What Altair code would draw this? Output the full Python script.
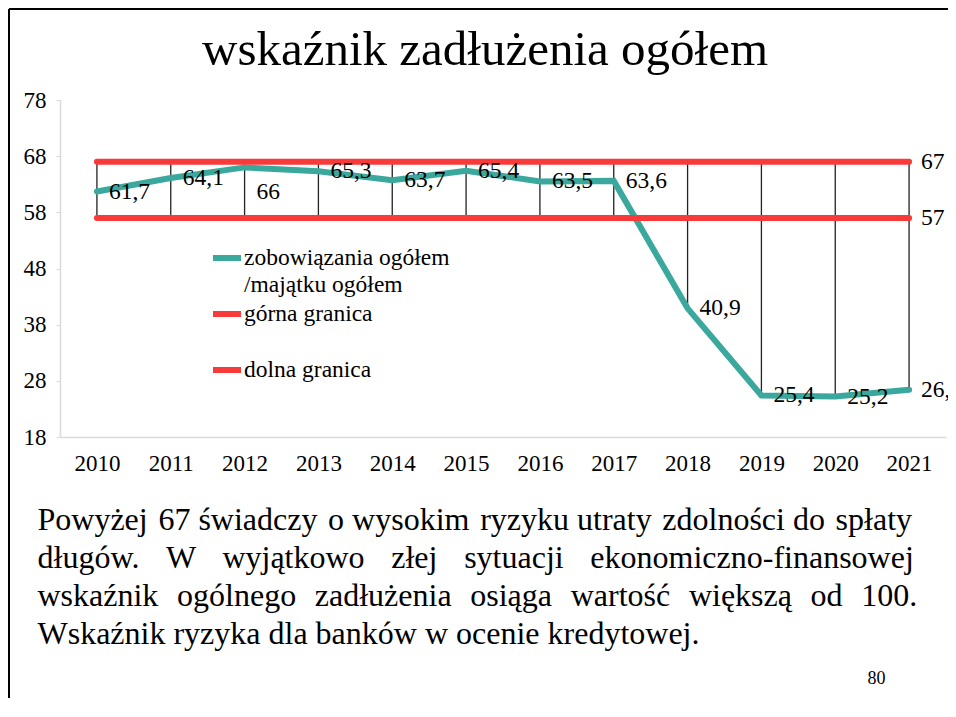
import altair as alt
import pandas as pd

# ---- data ----
years = [2010, 2011, 2012, 2013, 2014, 2015, 2016, 2017, 2018, 2019, 2020, 2021]
debt_ratio = [61.7, 64.1, 66, 65.3, 63.7, 65.4, 63.5, 63.6, 40.9, 25.4, 25.2, 26.4]
upper_limit = [67, 67, 67, 67, 67, 67, 67, 67, 67, 67, 67, 67]
lower_limit = [57, 57, 57, 57, 57, 57, 57, 57, 57, 57, 57, 57]
series_names = ["zobowiązania ogółem /majątku ogółem", "górna granica", "dolna granica"]
y_ticks = [18, 28, 38, 48, 58, 68, 78]
title_text = "wskaźnik zadłużenia ogółem"
note_lines = [
    "Powyżej 67 świadczy o wysokim ryzyku utraty zdolności do spłaty",
    "długów. W wyjątkowo złej sytuacji ekonomiczno-finansowej",
    "wskaźnik ogólnego zadłużenia osiąga wartość większą od 100.",
    "Wskaźnik ryzyka dla banków w ocenie kredytowej.",
]
page_number = "80"

# justified paragraph: widen word gaps with extra (non-collapsing) Unicode spaces
gap_fill = ["\u200a", "\u2002\u200a", "\u2004", ""]
justified = []
for i, (line, fill) in enumerate(zip(note_lines, gap_fill)):
    words = line.split(" ")
    if i == 0:
        out = words[0]
        for k, w in enumerate(words[1:]):
            out += " " + ("\u200a" if k % 2 == 0 else "") + w
        justified.append(out)
    else:
        justified.append((" " + fill).join(words))

TEAL = "#3AA89C"
RED = "#F83A3A"
FONT = "Liberation Serif, Times New Roman, serif"

wide = pd.DataFrame({"year": years, "ratio": debt_ratio,
                     "upper": upper_limit, "lower": lower_limit})
long_rows = []
for name, vals in zip(series_names, [debt_ratio, upper_limit, lower_limit]):
    for yr, v in zip(years, vals):
        long_rows.append({"year": yr, "series": name, "value": v})
long = pd.DataFrame(long_rows)

x_scale = alt.Scale(type="point", padding=0.5)
y_scale = alt.Scale(domain=[18, 78], nice=False, zero=False)

x_axis = alt.Axis(
    labelFont=FONT, labelFontSize=23, labelColor="#000", labelPadding=15,
    ticks=False, domainColor="#d9d9d9", domainWidth=1.5, grid=False, labelAngle=0,
    title=justified, titleFont=FONT, titleFontSize=32, titleFontWeight="normal",
    titleColor="#000", titleAlign="left", titleAnchor="start", titleBaseline="alphabetic",
    titleX=-23, titleY=92, titleLineHeight=38.3,
)
y_axis = alt.Axis(
    values=y_ticks, labelFont=FONT, labelFontSize=23, labelColor="#000",
    labelPadding=10, tickSize=4, tickColor="#d9d9d9", domainColor="#d9d9d9",
    domainWidth=1.5, grid=False,
    title=page_number, titleFont=FONT, titleFontSize=18, titleFontWeight="normal",
    titleColor="#000", titleAngle=0, titleAlign="center", titleBaseline="alphabetic",
    titleX=816, titleY=583,
)
X = alt.X("year:O", scale=x_scale, axis=x_axis)

hilo = alt.Chart(wide).transform_calculate(
    high="max(datum.ratio, datum.upper, datum.lower)",
    low="min(datum.ratio, datum.upper, datum.lower)",
).mark_rule(color="#222", strokeWidth=1.3).encode(
    x=X,
    y=alt.Y("high:Q", scale=y_scale, axis=y_axis),
    y2="low:Q",
)

label_expr = ("datum.label == '" + series_names[0] + "' ? ['zobowiązania ogółem', '/majątku ogółem']"
              " : [datum.label, '']")

lines = alt.Chart(long).mark_line(strokeWidth=6, strokeCap="round").encode(
    x=X,
    y=alt.Y("value:Q", scale=y_scale, axis=y_axis),
    color=alt.Color("series:N",
                    scale=alt.Scale(domain=series_names, range=[TEAL, RED, RED]),
                    sort=series_names,
                    legend=alt.Legend(
                        title=None, orient="none", legendX=150, legendY=141,
                        symbolType="stroke", symbolSize=784, symbolStrokeWidth=6,
                        labelFont=FONT, labelFontSize=23.5, labelColor="#000",
                        labelOffset=0, labelLimit=0,
                        labelBaseline="middle", rowPadding=-4, padding=0,
                        labelExpr=label_expr,
                    )),
    detail="series:N",
)

label_base = alt.Chart(long).transform_calculate(
    txt="replace(format(datum.value, '.1~f'), '.', ',')"
)
label_enc = dict(
    x=X,
    y=alt.Y("value:Q", scale=y_scale, axis=y_axis),
    text="txt:N",
)
labels = label_base.transform_filter(
    f"(datum.series == '{series_names[0]}' && datum.year != 2012) || "
    f"(datum.series != '{series_names[0]}' && datum.year == {years[-1]})"
).mark_text(align="left", baseline="middle", dx=12, font=FONT, fontSize=23.5,
            color="#000").encode(**label_enc)
label_moved = label_base.transform_filter(
    f"datum.series == '{series_names[0]}' && datum.year == 2012"
).mark_text(align="left", baseline="middle", dx=12, dy=25, font=FONT, fontSize=23.5,
            color="#000").encode(**label_enc)

frame_left = alt.Chart(alt.Data(values=[{}])).mark_rule(color="#000", strokeWidth=2).encode(
    x=alt.value(-51), y=alt.value(-91), y2=alt.value(600))
frame_top = alt.Chart(alt.Data(values=[{}])).mark_rule(color="#000", strokeWidth=2).encode(
    x=alt.value(-51), x2=alt.value(890), y=alt.value(-91))

chart = alt.layer(hilo, lines, labels, label_moved, frame_left, frame_top).properties(
    width=886, height=337,
    autosize=alt.AutoSizeParams(type="none"),
    padding={"left": 52, "top": 92, "right": 2, "bottom": 261},
    title=alt.TitleParams(title_text, font=FONT, fontSize=49, fontWeight="normal",
                          color="#000", anchor="middle", baseline="alphabetic",
                          offset=26, dx=-18, dy=132),
).configure(
    background="white",
    font=FONT,
    view=alt.ViewConfig(stroke=None),
    style={"guide-label": {"lineHeight": 27}},
)

chart.save("out.html", embed_options={"renderer": "svg", "actions": False})
